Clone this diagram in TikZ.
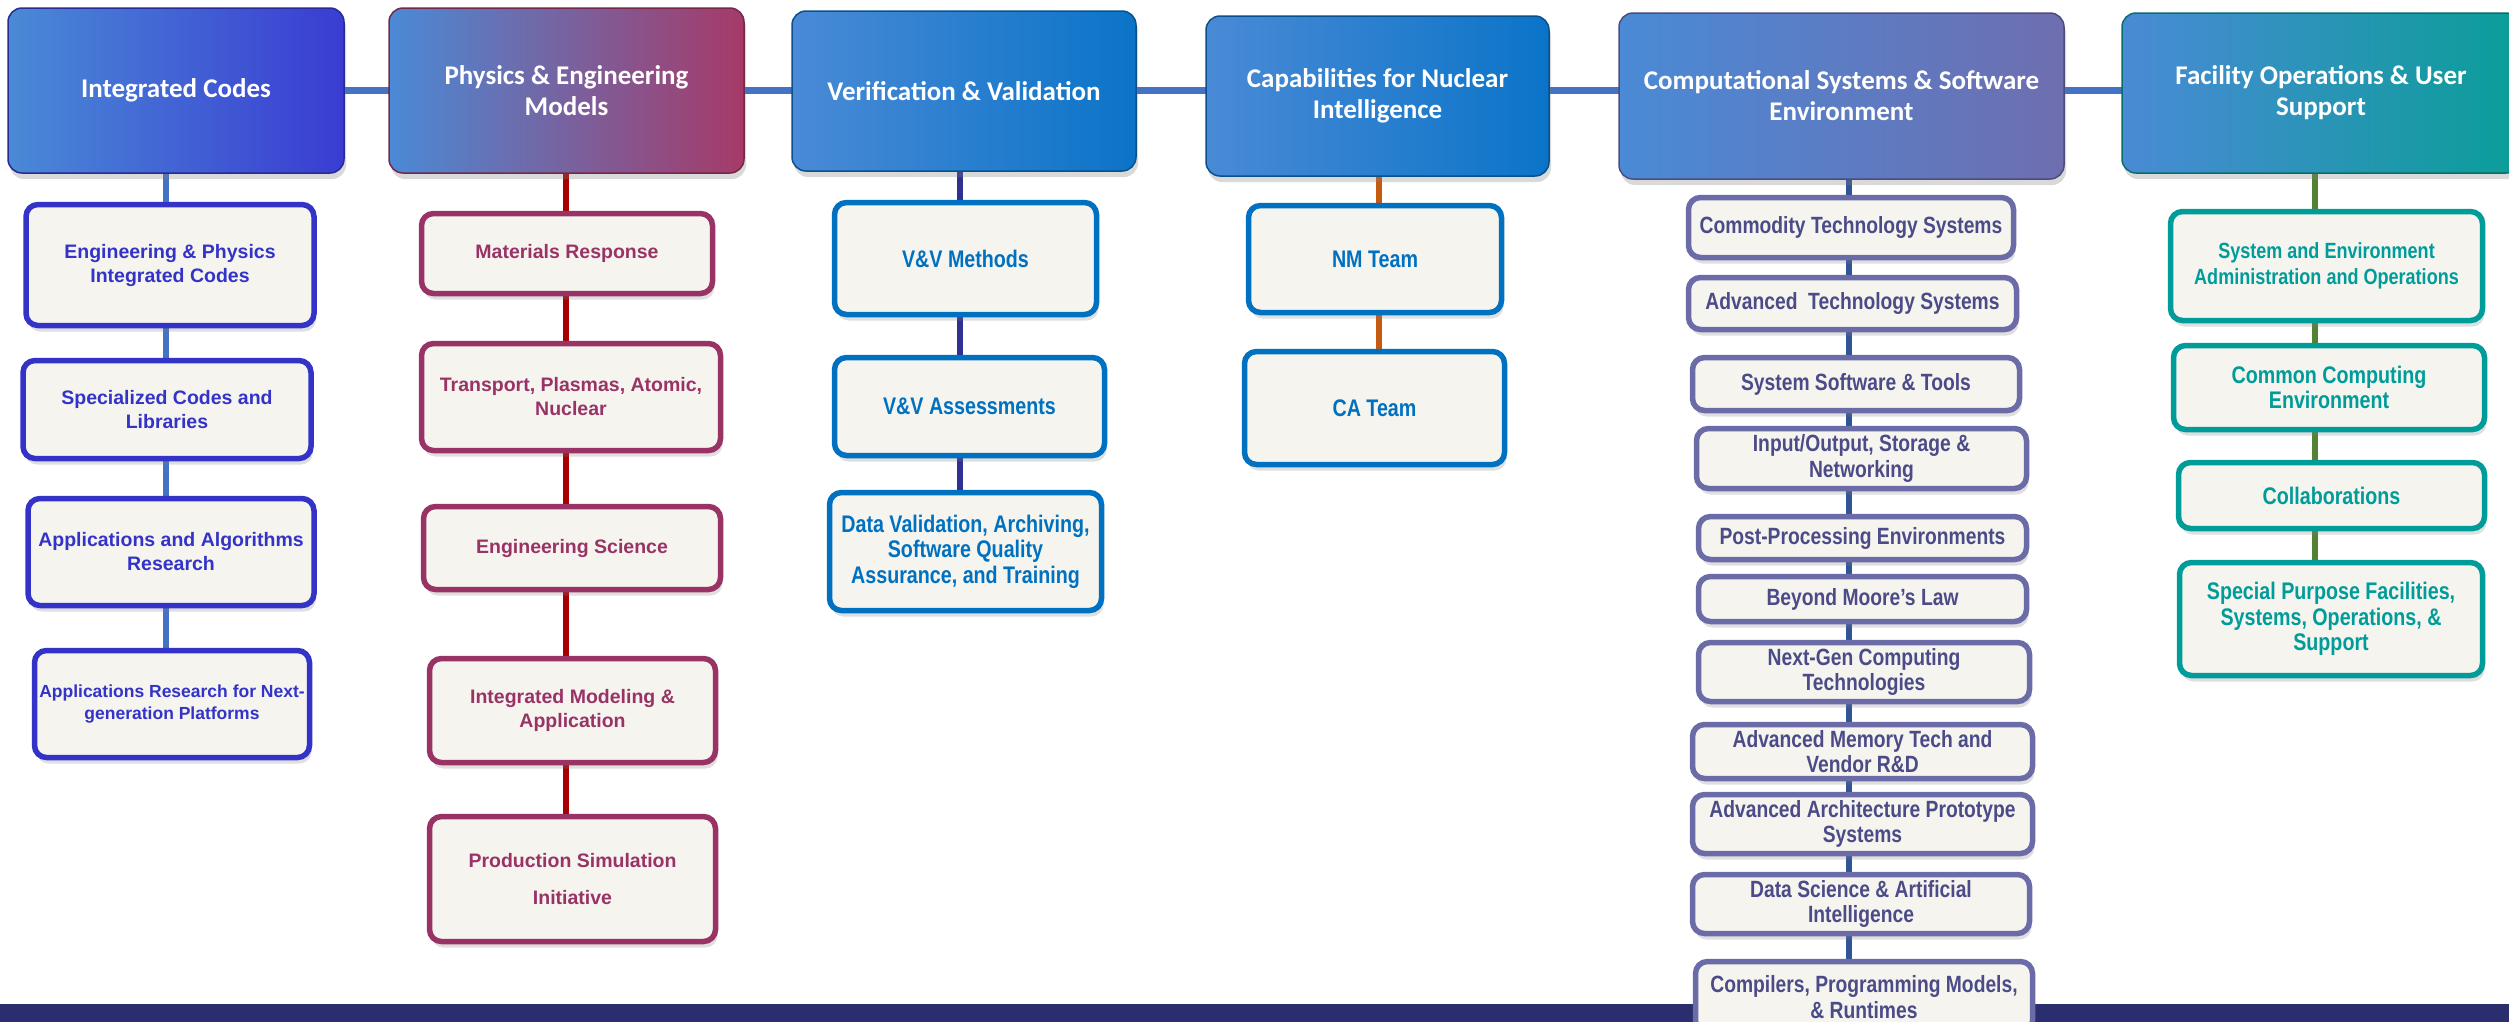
\documentclass[tikz,border=0pt]{standalone}
\usepackage{fontspec}
\setmainfont{Liberation Sans}
\newfontfamily\hdrfont{Carlito}
\newfontfamily\narrowfont[FakeStretch=0.82]{Liberation Sans}
\usepackage{tikz}
\usetikzlibrary{shadows,backgrounds}

\definecolor{hdrleft}{HTML}{4A8AD6}
\definecolor{icR}{HTML}{3A3CD2}
\definecolor{pemR}{HTML}{A63A68}
\definecolor{vvR}{HTML}{0B74C8}
\definecolor{csR}{HTML}{6E6EB0}
\definecolor{foR}{HTML}{0A9E98}
\definecolor{spinecol}{HTML}{4472C4}
\definecolor{icbox}{HTML}{3333C8}
\definecolor{icline}{HTML}{4472C4}
\definecolor{pembox}{HTML}{993366}
\definecolor{pemline}{HTML}{A80000}
\definecolor{vvbox}{HTML}{0070C0}
\definecolor{vvline}{HTML}{2E3192}
\definecolor{cniline}{HTML}{C55A11}
\definecolor{csbox}{HTML}{6B6BA8}
\definecolor{cstext}{HTML}{4B4B88}
\definecolor{csline}{HTML}{2F5597}
\definecolor{fobox}{HTML}{009C9A}
\definecolor{foline}{HTML}{548235}
\definecolor{itemfill}{HTML}{F5F4EE}
\definecolor{bandcol}{HTML}{2B2E6E}

\tikzset{
  header/.style={rectangle, rounded corners=14pt, draw=#1!70!black, line width=1.5pt,
    left color=hdrleft, right color=#1, text=white, align=center, inner sep=0pt,
    font=\hdrfont\bfseries\fontsize{27}{31}\selectfont,
    drop shadow={opacity=0.3, shadow xshift=2pt, shadow yshift=-6pt}},
  item/.style={rectangle, rounded corners=12pt, draw=#1, text=#1, line width=5.5pt,
    fill=itemfill, align=center, inner sep=0pt,
    font=\bfseries\fontsize{19.5}{24}\selectfont,
    drop shadow={opacity=0.25, shadow xshift=2pt, shadow yshift=-6pt}},
  narrow/.style={font=\narrowfont\bfseries\fontsize{#1}{25.5}\selectfont},
  sz/.style 2 args={minimum width=#1pt, minimum height=#2pt},
  link/.style={draw=#1, line width=5.5pt},
}

\begin{document}
\begin{tikzpicture}[x=1pt,y=-1pt]
    % x of the vertical connectors
    \pgfmathsetmacro{\colA}{166}
    \pgfmathsetmacro{\colB}{566}
    \pgfmathsetmacro{\colC}{960}
    \pgfmathsetmacro{\colD}{1379}
    \pgfmathsetmacro{\colE}{1849}
    \pgfmathsetmacro{\colF}{2315}

    \useasboundingbox (0,0) rectangle (2509,1021);

    % bottom band
    \fill[bandcol] (0,1004) rectangle (2520,1030);

    % top row
    \node[header=icR, sz={336}{165}] (ic) at (176,90.5) {Integrated Codes};
    \node[header=pemR, sz={355}{165}] (pem) at (566.5,90.5) {Physics \& Engineering\\Models};
    \node[header=vvR, sz={344}{160}] (vv) at (964,91) {Verification \& Validation};
    \node[header=vvR, sz={343}{160}] (cni) at (1377.5,96) {Capabilities for Nuclear\\Intelligence};
    \node[header=csR, sz={445}{166}] (csse) at (1841.5,96) {Computational Systems \& Software\\Environment};
    \node[header=foR, sz={398}{160}] (fous) at (2321,93) {Facility Operations \& User\\Support};

    % integrated codes
    \node[item=icbox, sz={288}{121}] (ic1) at (170,265) {Engineering \& Physics\\Integrated Codes};
    \node[item=icbox, sz={288}{98}] (ic2) at (167,409.5) {Specialized Codes and\\Libraries};
    \node[item=icbox, sz={286}{107}] (ic3) at (171,552) {Applications and Algorithms\\Research};
    \node[item=icbox, sz={275}{107}, font=\bfseries\fontsize{17.5}{22}\selectfont] (ic4) at (172,704)
        {Applications Research for Next-\\generation Platforms};

    % physics and engineering models
    \node[item=pembox, sz={291}{80}] (pem1) at (567,253.5) {Materials Response};
    \node[item=pembox, sz={299}{107}] (pem2) at (571,397) {Transport, Plasmas, Atomic,\\Nuclear};
    \node[item=pembox, sz={297}{83}] (pem3) at (572,548) {Engineering Science};
    \node[item=pembox, sz={286}{104}] (pem4) at (572.5,710.5) {Integrated Modeling \&\\Application};
    \node[item=pembox, sz={286}{125}] (pem5) at (572.5,879) {Production Simulation\\[13pt]Initiative};

    % v&v
    \node[item=vvbox, narrow=24, sz={262}{112}] (vv1) at (965.5,258.5) {V\&V Methods};
    \node[item=vvbox, narrow=24, sz={270}{98}] (vv2) at (969.5,406.5) {V\&V Assessments};
    \node[item=vvbox, narrow=24, sz={272}{118}] (vv3) at (965.5,551.5)
        {Data Validation, Archiving,\\Software Quality\\Assurance, and Training};

    % nuclear intelligence
    \node[item=vvbox, narrow=24, sz={253}{107}] (cni1) at (1375,259) {NM Team};
    \node[item=vvbox, narrow=24, sz={260}{113}] (cni2) at (1374.5,408) {CA Team};

    % computational systems
    \node[item=csbox, text=cstext, narrow=23.5, sz={325}{60}] (css1) at (1851,227.5) {Commodity Technology Systems};
    \node[item=csbox, text=cstext, narrow=23.5, sz={328}{52}] (css2) at (1852.5,303.5) {Advanced\ \ Technology Systems};
    \node[item=csbox, text=cstext, narrow=23.5, sz={327}{53}] (css3) at (1856,384) {System Software \& Tools};
    \node[item=csbox, text=cstext, narrow=23.5, sz={330}{60}] (css4) at (1861.5,458.5) {Input/Output, Storage \&\\Networking};
    \node[item=csbox, text=cstext, narrow=23.5, sz={328}{43}] (css5) at (1862.5,538) {Post-Processing Environments};
    \node[item=csbox, text=cstext, narrow=23.5, sz={328}{45}] (css6) at (1862.5,599) {Beyond Moore’s Law};
    \node[item=csbox, text=cstext, narrow=23.5, sz={331}{59}] (css7) at (1864,672) {Next-Gen Computing\\Technologies};
    \node[item=csbox, text=cstext, narrow=23.5, sz={340}{54}] (css8) at (1862.5,751.5) {Advanced Memory Tech and\\Vendor R\&D};
    \node[item=csbox, text=cstext, narrow=23.5, sz={340}{59}] (css9) at (1862.5,824) {Advanced Architecture Prototype\\Systems};
    \node[item=csbox, text=cstext, narrow=23.5, sz={337}{59}] (css10) at (1861,904) {Data Science \& Artificial\\Intelligence};
    \node[item=csbox, text=cstext, narrow=23.5, sz={337}{71}] (css11) at (1864,997) {Compilers, Programming Models,\\\& Runtimes};

    % facility operations
    \node[item=fobox, narrow=22, sz={312}{109}] (fo1) at (2326.5,266) {System and Environment\\Administration and Operations};
    \node[item=fobox, narrow=24, sz={311}{84}] (fo2) at (2329,387.5) {Common Computing\\Environment};
    \node[item=fobox, narrow=24, sz={306}{66}] (fo3) at (2331.5,495.5) {Collaborations};
    \node[item=fobox, narrow=24, sz={303}{113}] (fo4) at (2331,619) {Special Purpose Facilities,\\Systems, Operations, \&\\Support};

    \coordinate (spine) at (0,90);
    \coordinate (xa) at (\colA,0);
    \coordinate (xb) at (\colB,0);
    \coordinate (xc) at (\colC,0);
    \coordinate (xd) at (\colD,0);
    \coordinate (xe) at (\colE,0);
    \coordinate (xf) at (\colF,0);

    \begin{pgfonlayer}{background}
        \draw[link=spinecol, line width=7pt] (ic.center |- spine) -- (fous.center |- spine);
        \foreach \u/\v in {ic/ic1,ic1/ic2,ic2/ic3,ic3/ic4}
            \draw[link=icline] (\u.south -| xa) -- (\v.north -| xa);
        \foreach \u/\v in {pem/pem1,pem1/pem2,pem2/pem3,pem3/pem4,pem4/pem5}
            \draw[link=pemline] (\u.south -| xb) -- (\v.north -| xb);
        \foreach \u/\v in {vv/vv1,vv1/vv2,vv2/vv3}
            \draw[link=vvline] (\u.south -| xc) -- (\v.north -| xc);
        \foreach \u/\v in {cni/cni1,cni1/cni2}
            \draw[link=cniline] (\u.south -| xd) -- (\v.north -| xd);
        \foreach \u/\v in {csse/css1,css1/css2,css2/css3,css3/css4,css4/css5,css5/css6,css6/css7,css7/css8,css8/css9,css9/css10,css10/css11}
            \draw[link=csline] (\u.south -| xe) -- (\v.north -| xe);
        \foreach \u/\v in {fous/fo1,fo1/fo2,fo2/fo3,fo3/fo4}
            \draw[link=foline] (\u.south -| xf) -- (\v.north -| xf);
    \end{pgfonlayer}
\end{tikzpicture}
\end{document}
